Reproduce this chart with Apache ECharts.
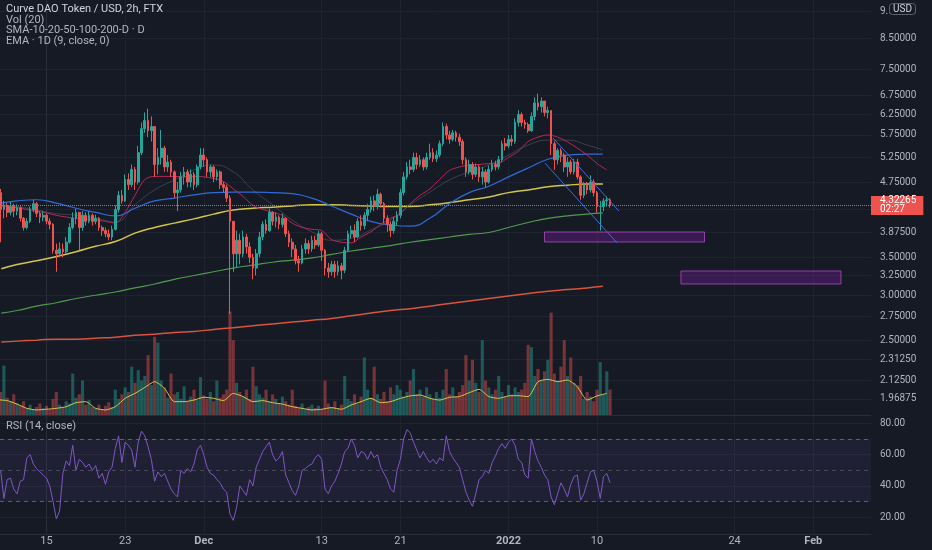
<!DOCTYPE html>
<html>
<head>
<meta charset="utf-8">
<title>Curve DAO Token / USD, 2h</title>
<script src="https://cdn.jsdelivr.net/npm/echarts@6/dist/echarts.min.js"></script>
<style>
    html, body { margin: 0; padding: 0; background: #161a25; }
    #chart { width: 932px; height: 550px; }
</style>
</head>
<body>
<div id="chart"></div>
<script>
// CRV/USD 2h chart from FTX.
// Bars are resampled to 8h. x is in days, day 0 = 15 Nov 2021 00:00

const firstBarDay = -14 / 3;   // 10 Nov 08:00
const barStep = 1 / 3;         // 8h
const firstOpen = 4.55;

const closes = [
    4.25, 4.32, 4.20, 4.30, 4.22, 4.28, 4.10, 3.95, 4.05, 4.25,
    4.35, 4.18, 4.12, 4.15, 4.05, 4.00, 3.60, 3.55, 3.62, 3.58,
    3.72, 3.95, 4.10, 4.20, 3.95, 4.15, 4.05, 4.15, 4.05, 4.10,
    3.95, 3.90, 3.85, 3.80, 3.92, 4.25, 4.50, 4.40, 4.80, 4.70,
    5.00, 4.75, 5.35, 5.90, 6.10, 5.85, 5.95, 5.10, 5.25, 5.45,
    5.05, 5.15, 4.95, 4.55, 4.60, 4.85, 4.95, 4.75, 4.90, 4.70,
    5.05, 5.30, 5.20, 4.95, 5.05, 4.85, 4.95, 4.70, 4.65, 4.45,
    4.05, 3.55, 3.75, 3.55, 3.80, 3.65, 3.50, 3.35, 3.55, 3.80,
    4.00, 3.90, 4.20, 4.05, 4.12, 4.00, 4.10, 3.85, 3.72, 3.62,
    3.45, 3.42, 3.62, 3.70, 3.62, 3.75, 3.68, 3.85, 3.60, 3.35,
    3.30, 3.40, 3.30, 3.38, 3.32, 3.60, 3.85, 3.90, 3.80, 4.05,
    3.98, 4.15, 4.25, 4.40, 4.30, 4.52, 4.35, 4.10, 4.00, 3.90,
    4.05, 4.15, 4.55, 4.85, 5.05, 5.00, 5.25, 5.10, 5.20, 5.05,
    5.25, 5.35, 5.22, 5.30, 5.55, 5.95, 5.75, 5.65, 5.80, 5.70,
    5.60, 5.20, 4.95, 5.10, 4.90, 5.05, 4.85, 4.95, 4.75, 5.00,
    5.10, 5.05, 5.20, 5.55, 5.50, 5.65, 5.60, 6.05, 6.25, 6.05,
    6.00, 5.85, 6.20, 6.55, 6.45, 6.60, 6.30, 6.35, 5.55, 5.20,
    5.40, 5.30, 5.05, 5.15, 4.95, 5.15, 4.85, 4.50, 4.70, 4.60,
    4.75, 4.55, 4.30, 4.30, 4.40, 4.42, 4.32265
];
const highs = [
    4.62, 4.40, 4.36, 4.38, 4.35, 4.34, 4.30, 4.12, 4.10, 4.30,
    4.42, 4.38, 4.22, 4.22, 4.18, 4.10, 4.02, 3.70, 3.72, 3.70,
    3.80, 4.02, 4.20, 4.26, 4.15, 4.22, 4.20, 4.22, 4.18, 4.16,
    4.12, 3.98, 3.95, 3.92, 3.98, 4.32, 4.58, 4.60, 4.90, 4.92,
    5.10, 5.05, 5.50, 6.05, 6.30, 6.40, 6.20, 5.95, 5.45, 5.87,
    5.50, 5.30, 5.20, 4.98, 4.75, 4.95, 5.05, 5.00, 5.00, 4.95,
    5.10, 5.45, 5.45, 5.25, 5.10, 5.08, 5.00, 4.98, 4.75, 4.70,
    4.50, 4.00, 3.90, 3.85, 3.90, 3.85, 3.72, 3.55, 3.62, 3.88,
    4.05, 4.08, 4.26, 4.22, 4.20, 4.15, 4.18, 4.12, 3.90, 3.78,
    3.68, 3.52, 3.68, 3.78, 3.75, 3.82, 3.82, 3.90, 3.88, 3.62,
    3.42, 3.45, 3.45, 3.45, 3.42, 3.65, 3.90, 3.98, 4.00, 4.10,
    4.15, 4.20, 4.35, 4.48, 4.50, 4.62, 4.55, 4.38, 4.15, 4.05,
    4.12, 4.22, 4.62, 4.95, 5.15, 5.20, 5.35, 5.35, 5.30, 5.25,
    5.35, 5.55, 5.45, 5.40, 5.62, 6.05, 6.02, 5.85, 5.87, 5.85,
    5.78, 5.65, 5.25, 5.20, 5.15, 5.12, 5.10, 5.05, 5.00, 5.08,
    5.20, 5.18, 5.28, 5.62, 5.68, 5.75, 5.75, 6.15, 6.36, 6.30,
    6.12, 6.05, 6.30, 6.70, 6.80, 6.70, 6.60, 6.45, 6.35, 5.60,
    5.45, 5.45, 5.35, 5.25, 5.20, 5.22, 5.22, 4.88, 4.75, 4.75,
    4.88, 4.80, 4.58, 4.40, 4.45, 4.48, 4.45
];
const lows = [
    3.72, 4.10, 4.12, 4.15, 4.12, 4.15, 4.05, 3.90, 3.92, 4.02,
    4.20, 4.12, 4.02, 4.05, 4.00, 3.92, 3.55, 3.30, 3.50, 3.50,
    3.55, 3.70, 3.92, 4.00, 3.60, 3.90, 3.98, 4.02, 3.98, 4.00,
    3.90, 3.82, 3.80, 3.75, 3.75, 3.90, 4.20, 4.35, 4.38, 4.60,
    4.65, 4.60, 4.70, 5.30, 5.80, 5.70, 5.60, 4.85, 4.90, 5.10,
    4.95, 4.95, 4.85, 4.45, 4.22, 4.55, 4.70, 4.65, 4.65, 4.60,
    4.65, 5.00, 5.05, 4.85, 4.85, 4.75, 4.78, 4.62, 4.55, 4.38,
    2.78, 3.30, 3.35, 3.40, 3.50, 3.55, 3.42, 3.20, 3.25, 3.50,
    3.75, 3.85, 3.88, 3.98, 3.95, 3.92, 3.95, 3.80, 3.65, 3.50,
    3.40, 3.30, 3.40, 3.55, 3.55, 3.58, 3.62, 3.65, 3.45, 3.25,
    3.22, 3.25, 3.22, 3.25, 3.20, 3.28, 3.58, 3.78, 3.72, 3.78,
    3.90, 3.92, 4.05, 4.20, 4.22, 4.25, 4.28, 4.02, 3.88, 3.80,
    3.85, 3.98, 4.10, 4.50, 4.80, 4.90, 4.95, 5.00, 5.05, 4.98,
    5.00, 5.20, 5.15, 5.15, 5.25, 5.50, 5.65, 5.55, 5.60, 5.60,
    5.50, 5.10, 4.85, 4.90, 4.80, 4.85, 4.75, 4.70, 4.65, 4.72,
    4.95, 4.98, 5.00, 5.15, 5.40, 5.45, 5.50, 5.55, 5.95, 5.95,
    5.90, 5.80, 5.82, 6.10, 6.35, 6.30, 6.20, 6.15, 5.30, 4.99,
    5.10, 5.15, 4.95, 4.85, 4.90, 4.90, 4.80, 4.42, 4.45, 4.52,
    4.55, 4.48, 4.20, 3.90, 4.22, 4.30, 4.28
];
// volume, arbitrary units (0-100 scale of the overlay)
const volumes = [
    20, 43, 15, 12, 18, 10,
    8, 12, 6, 9, 5, 7, 10, 6, 8, 5, 14, 20, 9, 7,
    12, 10, 36, 15, 18, 30, 9, 13, 7,
    6, 9, 5, 8, 11, 7, 22, 14, 18,
    24, 20, 42, 28, 39, 30, 34, 52, 26, 68, 63, 30, 24,
    15, 36, 18, 20, 14, 25, 12, 16, 22, 13, 33, 17, 14, 20, 12, 30, 15, 18,
    22, 90, 65, 28,
    20, 16, 22, 14, 42, 25, 18, 15, 22, 12, 18, 14, 10, 16, 12, 9,
    22, 8, 6, 10, 5, 7, 9, 6, 8, 5, 30, 10, 7, 12, 6, 9,
    34, 14, 12, 18, 10, 16, 50, 22, 15, 42, 18, 14, 20, 12, 24, 18, 26, 22, 16, 20, 30, 40, 18, 22,
    16, 24, 18, 14, 20, 15, 22, 40, 18, 24, 16, 20, 26, 52, 30, 48, 28, 20, 65, 30, 24, 18, 22, 34, 20, 16, 26, 18, 24, 20, 22, 28,
    61, 59, 34, 40, 30, 38, 48, 89, 36, 30, 42, 65, 34, 50, 28, 26, 34,
    14, 20, 16, 12, 22, 46, 18, 38, 22
];
const rsi = [
    50, 32, 44, 45, 38, 35, 43, 44, 58, 60,
    54, 51, 49, 47, 45, 40, 30, 19, 24, 48,
    56, 53, 66, 50, 57, 55, 52, 54, 50, 53,
    45, 48, 41, 49, 52, 64, 72, 55, 68, 66,
    63, 52, 68, 75, 72, 65, 57, 43, 49, 46,
    48, 43, 38, 35, 33, 50, 48, 51, 49, 54,
    63, 66, 60, 52, 48, 47, 44, 42, 38, 36,
    22, 18, 26, 40, 37, 34, 44, 40, 52, 57,
    62, 65, 68, 60, 56, 58, 62, 47, 42, 37,
    34, 40, 50, 51, 53, 54, 58, 60, 57, 38,
    35, 40, 43, 48, 54, 62, 64, 70, 66, 58,
    62, 61, 57, 62, 58, 60, 52, 48, 44, 38,
    36, 50, 57, 70, 76, 74, 68, 63, 58, 62,
    58, 55, 57, 54, 58, 56, 72, 62, 58, 55,
    52, 44, 36, 31, 27, 35, 44, 46, 50, 48,
    55, 59, 64, 67, 64, 68, 70, 66, 57, 55,
    47, 45, 70, 62, 56, 52, 47, 44, 33, 28,
    35, 42, 38, 33, 41, 46, 47, 31, 35, 42,
    49, 50, 43, 32, 46, 48, 42
];

// daily moving averages, sampled every 2 days
const maDays = [-4.6, -3, -1, 1, 3, 5, 7, 9, 11, 13, 15, 17, 19, 21, 23, 25,
    27, 29, 31, 33, 35, 37, 39, 41, 43, 45, 47, 49, 51, 53, 55, 56.6];
const sma10 = [4.33, 4.30, 4.24, 4.18, 4.15, 4.10, 4.04, 4.33, 4.60, 4.79, 4.99, 5.09, 4.95, 4.60, 4.33, 4.07,
    3.88, 3.75, 3.78, 3.91, 4.07, 4.33, 4.56, 4.79, 4.95, 5.09, 5.30, 5.52, 5.63, 5.63, 5.52, 5.41];
const sma20 = [4.36, 4.40, 4.42, 4.36, 4.27, 4.20, 4.14, 4.27, 4.40, 4.45, 4.51, 4.55, 4.56, 4.56, 4.55, 4.53,
    4.45, 4.31, 4.17, 4.05, 3.99, 3.97, 4.10, 4.35, 4.55, 4.67, 4.85, 5.03, 5.21, 5.30, 5.32, 5.32];
const sma50 = [3.34, 3.40, 3.45, 3.51, 3.58, 3.66, 3.73, 3.86, 3.95, 4.02, 4.09, 4.17, 4.24, 4.27, 4.29, 4.31,
    4.33, 4.33, 4.32, 4.31, 4.30, 4.30, 4.33, 4.37, 4.42, 4.47, 4.55, 4.60, 4.66, 4.69, 4.71, 4.71];
const sma100 = [2.79, 2.82, 2.87, 2.91, 2.96, 3.00, 3.04, 3.09, 3.14, 3.20, 3.25, 3.30, 3.35, 3.39, 3.43, 3.46,
    3.49, 3.54, 3.59, 3.63, 3.67, 3.72, 3.76, 3.80, 3.84, 3.87, 3.95, 4.03, 4.10, 4.14, 4.17, 4.19];
const sma200 = [2.48, 2.49, 2.50, 2.51, 2.51, 2.52, 2.53, 2.55, 2.56, 2.58, 2.59, 2.61, 2.63, 2.65, 2.67, 2.69,
    2.71, 2.73, 2.76, 2.79, 2.82, 2.84, 2.87, 2.90, 2.93, 2.96, 2.99, 3.02, 3.05, 3.07, 3.09, 3.11];

// one value per day, day -5 .. 57
const dailyStartDay = -5;
const ema9d = [
    4.31, 4.30, 4.28, 4.25, 4.22,
    4.19, 4.15, 4.12, 4.10, 4.09, 4.07, 4.05, 4.02,
    4.20, 4.50, 4.80, 4.86, 4.86, 4.86, 4.85, 4.86, 4.85, 4.82,
    4.76, 4.62, 4.48, 4.32, 4.25, 4.20, 4.15, 4.02, 3.95, 3.92,
    3.90, 3.76, 3.72, 3.71, 3.80, 3.88, 4.00, 4.10, 4.18, 4.35,
    4.50, 4.62, 4.80, 4.98, 5.05, 5.09, 5.10, 5.12, 5.13, 5.25,
    5.38, 5.60, 5.70, 5.75, 5.70, 5.59, 5.45, 5.30, 5.12, 4.99
];
const volMa = [
    13.2, 12.5, 9.5, 5.8, 4.4,
    5.0, 5.8, 7.2, 10.7, 11.6, 5.8, 4.4, 7.2,
    14.5, 18.8, 24.0, 29.0, 23.2, 11.6, 11.6, 13.0, 15.4, 14.5,
    12.5, 18.8, 16.0, 11.6, 12.5, 10.7, 9.5, 7.2, 5.8, 4.4,
    5.0, 6.4, 5.0, 8.7, 11.6, 14.5, 10.7, 11.6, 14.5, 16.6,
    17.4, 14.5, 13.0, 15.4, 16.0, 19.4, 22.3, 16.0, 14.5, 16.6,
    16.8, 16.0, 29.0, 31.0, 29.0, 30.4, 24.6, 13.0, 16.6, 18.8
];

// drawings: falling channel and two demand zones
const channelLower = [[50.71, 5.13], [58.04, 3.71]];
const channelUpper = [[51.53, 5.68], [58.24, 4.22]];
const zoneFrom = [50.66, 64.54];
const zoneTo = [66.94, 80.82];
const zoneLow = [3.724, 3.14];
const zoneHigh = [3.878, 3.31];

// axes
const dateTickDays = [0, 8, 16, 28, 36, 47, 56, 70, 78];
const dateTickLabels = ['15', '23', 'Dec', '13', '21', '2022', '10', '24', 'Feb'];
const priceTicks = [1.96875, 2.125, 2.3125, 2.5, 2.75, 3, 3.25, 3.5, 3.875, 4.25,
    4.75, 5.25, 5.75, 6.25, 6.75, 7.5, 8.5, 9.5];
const rsiTicks = [20, 40, 60, 80];

const FONT = 'Roboto, "Noto Sans", sans-serif';
const UP = '#26a69a';
const DOWN = '#ef5350';
const GRID_LINE = '#1f2330';
const EDGE = '#2a2e39';
const TEXT = '#b2b5be';

const chart = echarts.init(document.getElementById('chart'));

const barDays = closes.map((c, i) => firstBarDay + i * barStep);
const opens = closes.map((c, i) => i === 0 ? firstOpen : closes[i - 1]);
const candles = closes.map((c, i) => [
    barDays[i], opens[i], c,
    Math.min(lows[i], opens[i], c),
    Math.max(highs[i], opens[i], c)
]);
const volumeBars = volumes.map((v, i) => ({
    value: [barDays[i], v],
    itemStyle: { color: closes[i] >= opens[i] ? 'rgba(38,166,154,0.45)' : 'rgba(239,83,80,0.45)' }
}));
const dailyDays = ema9d.map((v, i) => dailyStartDay + i);
const lastClose = closes[closes.length - 1];

const xMin = -4.73, xMax = 83.876;

function maLine(name, values, color, width) {
    return {
        name: name, type: 'line', xAxisIndex: 0, yAxisIndex: 0,
        data: maDays.map((d, i) => [d, values[i]]),
        smooth: true, symbol: 'none', silent: true,
        lineStyle: { color: color, width: width }, z: 3
    };
}

function titleLine(text, top, color) {
    return {
        text: text, left: 6, top: top, padding: 0,
        textStyle: { color: color, fontSize: 11, fontWeight: 'normal', fontFamily: FONT }
    };
}

function dateLabel(v) {
    const k = dateTickDays.findIndex(d => Math.abs(d - v) < 0.01);
    if (k < 0) return '';
    const s = dateTickLabels[k];
    return /^\d{1,2}$/.test(s) ? s : '{b|' + s + '}';
}

const option = {
    backgroundColor: '#161a25',
    animation: false,
    textStyle: { fontFamily: FONT },
    title: [
        titleLine('Curve DAO Token / USD, 2h, FTX', 4, '#d1d4dc'),
        titleLine('Vol (20)', 15, TEXT),
        titleLine('SMA-10-20-50-100-200-D · D', 25, TEXT),
        titleLine('EMA · 1D (9, close, 0)', 36, TEXT),
        titleLine('RSI (14, close)', 421, TEXT),
        {
            text: 'USD', left: 889, top: 3, padding: [1, 4],
            backgroundColor: '#161a25', borderColor: '#5d606b', borderWidth: 1, borderRadius: 3,
            textStyle: { color: '#d1d4dc', fontSize: 10, fontWeight: 'normal', fontFamily: FONT }
        }
    ],
    grid: [
        { left: 0, right: 61, top: 0, height: 415, outerBoundsMode: 'none' },
        { left: 0, right: 61, top: 300, height: 115, outerBoundsMode: 'none' },
        { left: 0, right: 61, top: 416, height: 118, outerBoundsMode: 'none' }
    ],
    xAxis: [
        {
            type: 'value', gridIndex: 0, min: xMin, max: xMax,
            axisLine: { show: true, lineStyle: { color: EDGE } },
            axisTick: { show: false, customValues: dateTickDays },
            axisLabel: { show: false, customValues: dateTickDays },
            splitLine: { show: true, lineStyle: { color: GRID_LINE } }
        },
        {
            type: 'value', gridIndex: 1, min: xMin, max: xMax, show: false,
            splitLine: { show: false }
        },
        {
            type: 'value', gridIndex: 2, min: xMin, max: xMax,
            axisLine: { show: true, lineStyle: { color: EDGE } },
            axisTick: { show: false, customValues: dateTickDays },
            axisLabel: {
                customValues: dateTickDays, formatter: dateLabel, margin: 2,
                color: TEXT, fontSize: 11, fontFamily: FONT,
                rich: { b: { fontWeight: 'bold', color: TEXT, fontSize: 11, fontFamily: FONT } }
            },
            splitLine: { show: true, lineStyle: { color: GRID_LINE } }
        }
    ],
    yAxis: [
        {
            type: 'log', gridIndex: 0, position: 'right', min: 1.8448, max: 9.946,
            axisLine: { show: true, lineStyle: { color: EDGE } },
            axisTick: { show: false, customValues: priceTicks },
            axisLabel: {
                customValues: priceTicks, margin: 9, color: TEXT, fontSize: 10, fontFamily: FONT,
                formatter: v => v.toFixed(5)
            },
            splitLine: { show: true, lineStyle: { color: GRID_LINE } }
        },
        {
            type: 'value', gridIndex: 1, min: 0, max: 100, show: false,
            splitLine: { show: false }
        },
        {
            type: 'value', gridIndex: 2, position: 'right', min: 9.3, max: 84.7,
            axisLine: { show: true, lineStyle: { color: EDGE } },
            axisTick: { show: false, customValues: rsiTicks },
            axisLabel: {
                customValues: rsiTicks, margin: 9, color: TEXT, fontSize: 10, fontFamily: FONT,
                formatter: v => v.toFixed(2)
            },
            splitLine: { show: true, lineStyle: { color: GRID_LINE } }
        }
    ],
    series: [
        {
            name: 'Vol', type: 'bar', xAxisIndex: 1, yAxisIndex: 1,
            data: volumeBars, barWidth: 3.1, silent: true, z: 1
        },
        {
            name: 'Vol MA', type: 'line', xAxisIndex: 1, yAxisIndex: 1,
            data: dailyDays.map((d, i) => [d, volMa[i]]),
            symbol: 'none', silent: true, smooth: 0.2,
            lineStyle: { color: '#d8c64a', width: 1 }, z: 2
        },
        maLine('SMA 200D', sma200, '#d9533e', 1.5),
        maLine('SMA 100D', sma100, '#4f9a4f', 1.2),
        maLine('SMA 50D', sma50, '#d3c54a', 1.5),
        maLine('SMA 20D', sma20, '#2f6bd6', 1.2),
        maLine('SMA 10D', sma10, 'rgba(130,133,145,0.35)', 1),
        {
            name: 'EMA 1D', type: 'line', xAxisIndex: 0, yAxisIndex: 0,
            data: dailyDays.map((d, i) => [d, ema9d[i]]),
            smooth: 0.3, symbol: 'none', silent: true,
            lineStyle: { color: '#b8285a', width: 1 }, z: 3
        },
        {
            name: 'CRV', type: 'candlestick', xAxisIndex: 0, yAxisIndex: 0,
            data: candles, encode: { x: 0, y: [1, 2, 3, 4] },
            barWidth: 2.2, silent: true, z: 4,
            itemStyle: { color: UP, color0: DOWN, borderColor: UP, borderColor0: DOWN, borderWidth: 1 },
            markLine: {
                symbol: ['none', 'none'], silent: true, animation: false,
                lineStyle: { color: DOWN, type: 'dotted', width: 1 },
                label: {
                    show: true, position: 'end', distance: 0,
                    formatter: () => lastClose.toFixed(5) + '\n02:27',
                    backgroundColor: '#ef5350', color: '#ffffff',
                    fontSize: 10, lineHeight: 9, fontFamily: FONT,
                    padding: [1, 7, 0, 9]
                },
                data: [{ yAxis: lastClose }]
            }
        },
        {
            name: 'Channel lower', type: 'line', xAxisIndex: 0, yAxisIndex: 0,
            data: channelLower, symbol: 'none', silent: true,
            lineStyle: { color: '#3d6be0', width: 1 }, z: 5,
            markArea: {
                silent: true,
                itemStyle: { color: 'rgba(123,31,162,0.35)', borderColor: 'rgba(171,71,188,0.85)', borderWidth: 1 },
                data: zoneFrom.map((d, i) => [
                    { xAxis: d, yAxis: zoneLow[i] },
                    { xAxis: zoneTo[i], yAxis: zoneHigh[i] }
                ])
            }
        },
        {
            name: 'Channel upper', type: 'line', xAxisIndex: 0, yAxisIndex: 0,
            data: channelUpper, symbol: 'none', silent: true,
            lineStyle: { color: '#3d6be0', width: 1 }, z: 5
        },
        {
            name: 'RSI', type: 'line', xAxisIndex: 2, yAxisIndex: 2,
            data: barDays.map((d, i) => [d, rsi[i]]),
            symbol: 'none', silent: true,
            lineStyle: { color: '#7e57c2', width: 1 }, z: 3,
            markArea: {
                silent: true,
                itemStyle: { color: 'rgba(126,87,194,0.1)' },
                data: [[{ yAxis: 30 }, { yAxis: 70 }]]
            },
            markLine: {
                symbol: ['none', 'none'], silent: true, label: { show: false },
                lineStyle: { color: 'rgba(120,123,134,0.7)', type: [4, 4], width: 1 },
                data: [{ yAxis: 70 }, { yAxis: 50, lineStyle: { color: 'rgba(120,123,134,0.45)' } }, { yAxis: 30 }]
            }
        }
    ]
};

chart.setOption(option);
</script>
</body>
</html>
